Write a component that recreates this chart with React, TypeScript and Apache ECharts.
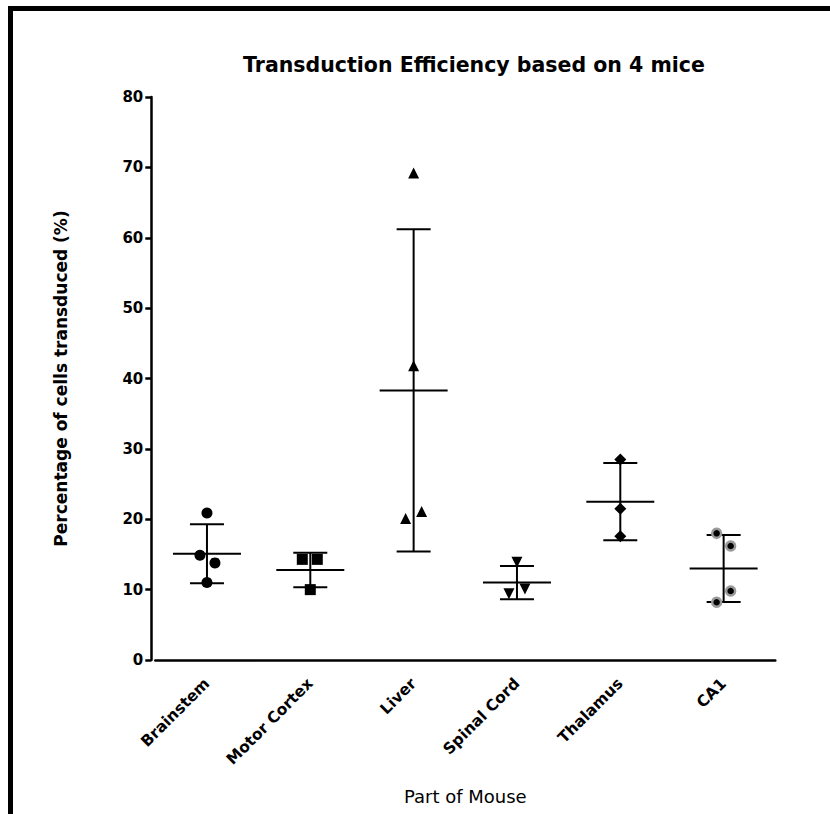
import React, { useEffect, useRef } from "react";
import * as echarts from "echarts";

const categories = ["Brainstem", "Motor Cortex", "Liver", "Spinal Cord", "Thalamus", "CA1"];

// individual mouse values per region
const brainstem = [20.9, 14.9, 13.8, 11.0];
const motorCortex = [14.3, 14.3, 10.0];
const liver = [69.2, 41.8, 20.1, 21.1];
const spinalCord = [13.9, 10.1, 9.4];
const thalamus = [28.5, 21.5, 17.6];
const ca1 = [18.0, 16.2, 9.8, 8.2];

// horizontal jitter (px) of each point, as drawn
const brainstemJitter = [0, -7, 8, 0];
const motorCortexJitter = [-8, 7, 0];
const liverJitter = [0, 0, -8, 8];
const spinalCordJitter = [0, 8, -8];
const thalamusJitter = [0, 0, 0];
const ca1Jitter = [-7, 7, 7, -7];

// mean and standard deviation
const means = [15.1, 12.8, 38.3, 11.0, 22.5, 13.0];
const sds = [4.2, 2.45, 22.9, 2.35, 5.5, 4.75];

const yTicks = { min: 0, max: 80, interval: 10 };

const FONT = "DejaVu Sans, Verdana, sans-serif";

export default function App() {
  const ref = useRef<HTMLDivElement>(null);
  useEffect(() => {
    document.body.style.margin = "0";
    const chart = echarts.init(ref.current!, undefined, { renderer: "svg" });
    const groups = [
      { vals: brainstem, jit: brainstemJitter, symbol: "circle", size: 11 },
      { vals: motorCortex, jit: motorCortexJitter, symbol: "rect", size: 11 },
      { vals: liver, jit: liverJitter, symbol: "triangle", size: 11 },
      { vals: spinalCord, jit: spinalCordJitter, symbol: "triangle", size: 11, rotate: 180 },
      { vals: thalamus, jit: thalamusJitter, symbol: "diamond", size: 12 },
      { vals: ca1, jit: ca1Jitter, symbol: "circle", size: 9, ca1: true },
    ];
    const scatterSeries = groups.map((g, i) => ({
      type: "scatter",
      xAxisIndex: 0,
      yAxisIndex: 0,
      symbol: g.symbol,
      symbolSize: g.size,
      symbolRotate: g.rotate || 0,
      z: 3,
      itemStyle: g.ca1
        ? { color: "#000", borderColor: "#9a9a9a", borderWidth: 2.5, opacity: 1 }
        : { color: "#000", opacity: 1 },
      data: g.vals.map((v, k) => ({
        value: [i, v],
        symbolOffset: [g.jit[k], 0],
      })),
    }));
    const errorData = means.map((m, i) => [i, m, sds[i]]);
    chart.setOption({
      animation: false,
      backgroundColor: "#fff",
      title: {
        text: "Transduction Efficiency based on 4 mice",
        left: 469,
        top: 49,
        textAlign: "center",
        textStyle: { fontFamily: FONT, fontWeight: "bold", fontSize: 20.5, color: "#000" },
      },
      grid: { left: 155.3, top: 97, width: 620, height: 563, containLabel: false },
      xAxis: {
        type: "category",
        data: categories,
        boundaryGap: true,
        name: "Part of Mouse",
        nameLocation: "middle",
        nameGap: 127,
        nameTextStyle: { fontFamily: FONT, fontSize: 18, color: "#000" },
        axisLine: { lineStyle: { color: "#000", width: 2.5 } },
        axisTick: { alignWithLabel: true, length: 6, lineStyle: { color: "#000", width: 2.5 } },
        axisLabel: {
          rotate: 45,
          margin: 21,
          fontFamily: FONT,
          fontWeight: "bold",
          fontSize: 15.5,
          color: "#000",
        },
        splitLine: { show: false },
      },
      yAxis: {
        type: "value",
        min: yTicks.min,
        max: yTicks.max,
        interval: yTicks.interval,
        offset: 4,
        name: "Percentage of cells transduced (%)",
        nameLocation: "middle",
        nameGap: 82,
        nameTextStyle: { fontFamily: FONT, fontWeight: "bold", fontSize: 17, color: "#000" },
        axisLine: { show: true, lineStyle: { color: "#000", width: 2.5 } },
        axisTick: { show: true, length: 6, lineStyle: { color: "#000", width: 2.5 } },
        axisLabel: { margin: 8, fontFamily: FONT, fontWeight: "bold", fontSize: 15, color: "#000" },
        splitLine: { show: false },
      },
      graphic: [
        { type: "line", shape: { x1: 10.5, y1: 8.5, x2: 830, y2: 8.5 }, style: { stroke: "#000", lineWidth: 5 } },
        { type: "line", shape: { x1: 10.5, y1: 6, x2: 10.5, y2: 814 }, style: { stroke: "#000", lineWidth: 5 } },
      ],
      series: [
        {
          type: "custom",
          z: 2,
          data: errorData,
          renderItem: (params: any, api: any) => {
            const idx = api.value(0);
            const m = api.value(1);
            const sd = api.value(2);
            const c = api.coord([idx, m]);
            const top = api.coord([idx, m + sd]);
            const bot = api.coord([idx, m - sd]);
            const st = { stroke: "#000", lineWidth: 2 };
            return {
              type: "group",
              children: [
                { type: "line", shape: { x1: c[0] - 34, y1: c[1], x2: c[0] + 34, y2: c[1] }, style: st },
                { type: "line", shape: { x1: c[0], y1: top[1], x2: c[0], y2: bot[1] }, style: st },
                { type: "line", shape: { x1: c[0] - 17, y1: top[1], x2: c[0] + 17, y2: top[1] }, style: st },
                { type: "line", shape: { x1: c[0] - 17, y1: bot[1], x2: c[0] + 17, y2: bot[1] }, style: st },
              ],
            };
          },
        },
        ...scatterSeries,
      ],
    });
    return () => chart.dispose();
  }, []);
  return <div ref={ref} style={{ width: 830, height: 814 }} />;
}
